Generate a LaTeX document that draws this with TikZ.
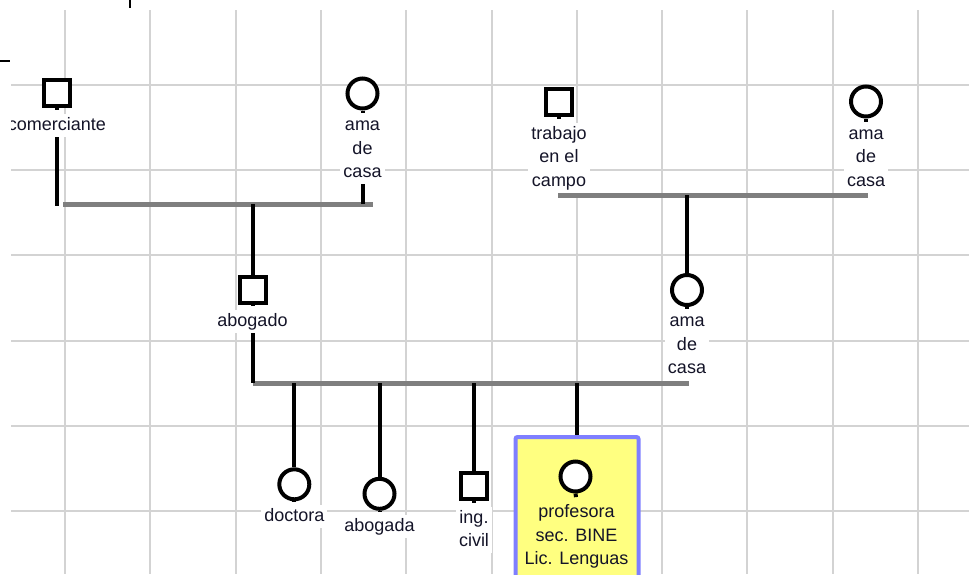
\documentclass[tikz,border=0pt]{standalone}
\usepackage{fontspec}
\setmainfont{Liberation Sans}
\definecolor{gridc}{HTML}{D3D3D3}
\definecolor{barc}{HTML}{7F7F7F}
\definecolor{pfill}{HTML}{FFFF80}
\definecolor{pdraw}{HTML}{7F7FFF}
\definecolor{txt}{HTML}{141428}
\begin{document}
\begin{tikzpicture}[x=1pt,y=-1pt,
  gridline/.style={gridc,line width=2pt},
  male/.style={rectangle,draw=black,fill=white,line width=4pt,minimum size=26pt,inner sep=0pt},
  female/.style={circle,draw=black,fill=white,line width=4pt,minimum size=30pt,inner sep=0pt},
  lab/.style={anchor=south,fill=white,align=center,inner xsep=3pt,inner ysep=3.5pt,text depth=3pt,text=txt,font=\fontsize{18}{23.5}\selectfont},
  plab/.style={lab,fill=none},
  kin/.style={black,line width=4pt},
  stub/.style={kin,shorten >=4pt},
  couple/.style={barc,line width=5pt},
  tick/.style={black,line width=2pt},
  pbox/.style={rectangle,draw=pdraw,fill=pfill,line width=4pt,rounded corners=2pt,minimum width=123pt,minimum height=200pt,inner sep=0pt}
]
\useasboundingbox (0,0) rectangle (969,574);
% ruler ticks
\coordinate (t1a) at (130,0); \coordinate (t1b) at (130,8);
\coordinate (t2a) at (0,61); \coordinate (t2b) at (10,61);
\draw[tick] (t1a) -- (t1b);
\draw[tick] (t2a) -- (t2b);

\begin{scope}
\clip (11,10) rectangle (969,574);
% grid
\foreach \i in {0,...,10} \draw[gridline] ({65+85.3*\i},10) -- ({65+85.3*\i},574);
\foreach \j in {0,...,5} \draw[gridline] (11,{85+85.2*\j}) -- (969,{85+85.2*\j});

% grandparents (father side)
\node[male] (gf1) at (57,93) {};
\node[lab] (gf1l) at (57,137.2) {comerciante};
\node[female] (gm1) at (362.5,93.5) {};
\node[lab] (gm1l) at (362.5,184.2) {ama\\de\\casa};
% grandparents (mother side)
\node[male] (gf2) at (559,102) {};
\node[lab] (gf2l) at (559,193) {trabajo\\en el\\campo};
\node[female] (gm2) at (866,101.5) {};
\node[lab] (gm2l) at (866,193) {ama\\de\\casa};
% parents
\node[male] (fa) at (252.5,289.5) {};
\node[lab] (fal) at (252.5,333.2) {abogado};
\node[female] (mo) at (687,290) {};
\node[lab] (mol) at (687,380.2) {ama\\de\\casa};
% children
\node[female] (c1) at (294.3,484.3) {};
\node[lab] (c1l) at (294.3,528.5) {doctora};
\node[female] (c2) at (379.5,493.8) {};
\node[lab] (c2l) at (379.5,538.5) {abogada};
\node[male] (c3) at (474,485.5) {};
\node[lab] (c3l) at (474,553.5) {ing.\\civil};
\node[pbox] (pb) at (577,537) {};
\node[female] (c4) at (575.5,476.5) {};
\node[plab] (c4l) at (576.5,571.5) {profesora\\sec. BINE\\Lic. Lenguas};

% couple bars
\coordinate (b1l) at (63,204); \coordinate (b1r) at (373,204); \coordinate (b1m) at (252.5,204);
\coordinate (gf1e) at (57,206); \coordinate (gm1e) at (362.5,204);
\coordinate (b3l) at (558,195); \coordinate (b3r) at (868,195); \coordinate (b3m) at (687,195);
\coordinate (b2l) at (252.5,383); \coordinate (b2r) at (689,383);
\coordinate (k1) at (294.3,383); \coordinate (k2) at (379.5,383);
\coordinate (k3) at (474,383); \coordinate (k4) at (577,383);
\draw[couple] (b1l) -- (b1r);
\draw[couple] (b3l) -- (b3r);
\draw[couple] (b2l) -- (b2r);

% stubs symbol -> label
\foreach \s in {gf1,gm1,gf2,gm2,fa,mo,c1,c2,c3,c4}
  \draw[stub] (\s.south) -- (\s l.north);

% kinship lines
\draw[kin] (gf1l.south) -- (gf1e);
\draw[kin] (gm1l.south) -- (gm1e);
\draw[kin] (b1m) -- (fa.north);
\draw[kin] (b3m) -- (mo.north);
\draw[kin] (fal.south) -- (b2l);
\draw[kin] (k1) -- (c1.north);
\draw[kin] (k2) -- (c2.north);
\draw[kin] (k3) -- (c3.north);
\draw[kin] (k4) -- (pb.north);
\end{scope}
\end{tikzpicture}
\end{document}
